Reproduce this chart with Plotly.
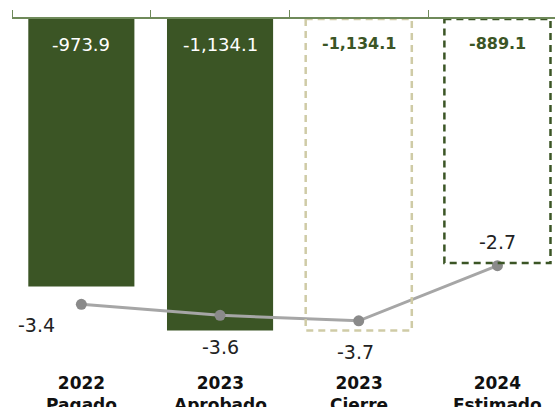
import plotly.graph_objects as go

categories = ["2022<br>Pagado", "2023<br>Aprobado", "2023<br>Cierre", "2024<br>Estimado"]
bar_values = [-973.9, -1134.1, -1134.1, -889.1]
bar_labels = ["-973.9", "-1,134.1", "-1,134.1", "-889.1"]
line_values = [-3.4, -3.6, -3.7, -2.7]
line_labels = ["-3.4", "-3.6", "-3.7", "-2.7"]

GREEN = "#3B5525"
BEIGE = "#CFCBA6"
FONT = "DejaVu Sans"

solid = [True, True, False, False]
outline_colors = [None, None, BEIGE, GREEN]
fills = [GREEN if s else "rgba(0,0,0,0)" for s in solid]
label_shift = [(-45, -21), (0, -32), (-3, -31), (0, 24)]

fig = go.Figure()
bw = 0.765
fig.add_trace(go.Bar(
    x=list(range(len(categories))), y=bar_values,
    marker=dict(color=fills, line=dict(width=0)),
    width=bw, hoverinfo="skip", showlegend=False,
))

for i, (v, s, c) in enumerate(zip(bar_values, solid, outline_colors)):
    if not s:
        fig.add_shape(type="rect", xref="x", yref="y",
                      x0=i - bw / 2, x1=i + bw / 2, y0=0, y1=v,
                      line=dict(color=c, width=2.5, dash="7px,5px"),
                      fillcolor="rgba(0,0,0,0)", layer="above")
    fig.add_annotation(x=i, y=0, xref="x", yref="y", yanchor="top", yshift=-13,
                       text=("<b>%s</b>" % bar_labels[i]) if not s else bar_labels[i],
                       showarrow=False,
                       font=dict(family=FONT, size=16 if not s else 18,
                                 color="white" if s else GREEN))
    fig.add_annotation(x=i, y=-0.033, xref="x", yref="paper", yanchor="top",
                       text="<b>%s</b>" % categories[i], showarrow=False,
                       font=dict(family=FONT, size=17, color="#111111"))

fig.add_trace(go.Scatter(
    x=list(range(len(categories))), y=line_values, yaxis="y2",
    mode="lines+markers",
    line=dict(color="#A6A6A6", width=3),
    marker=dict(color="#8A8A8A", size=11),
    hoverinfo="skip", showlegend=False, cliponaxis=False,
))

for i, (v, t) in enumerate(zip(line_values, line_labels)):
    dx, dy = label_shift[i]
    fig.add_annotation(x=i, y=v, xref="x", yref="y2", text=t, showarrow=False,
                       xshift=dx, yshift=dy,
                       font=dict(family=FONT, size=19, color="#222222"))

fig.update_layout(
    width=555, height=407,
    margin=dict(l=12, r=0, t=19, b=47),
    paper_bgcolor="white", plot_bgcolor="white",
    xaxis=dict(range=[-0.5, 3.415], side="top", showline=True, linecolor="#6F8A5A",
               linewidth=1.5, ticks="outside", ticklen=7, tickcolor="#6F8A5A",
               tickvals=[-0.5, 0.5, 1.5, 2.5, 3.5], showticklabels=False,
               showgrid=False, zeroline=False),
    yaxis=dict(range=[-1242, 0], visible=False, showgrid=False, zeroline=False),
    yaxis2=dict(range=[-4.41, 1.77], overlaying="y", visible=False,
                showgrid=False, zeroline=False),
    bargap=0.235,
)

fig.write_html("out.html")
